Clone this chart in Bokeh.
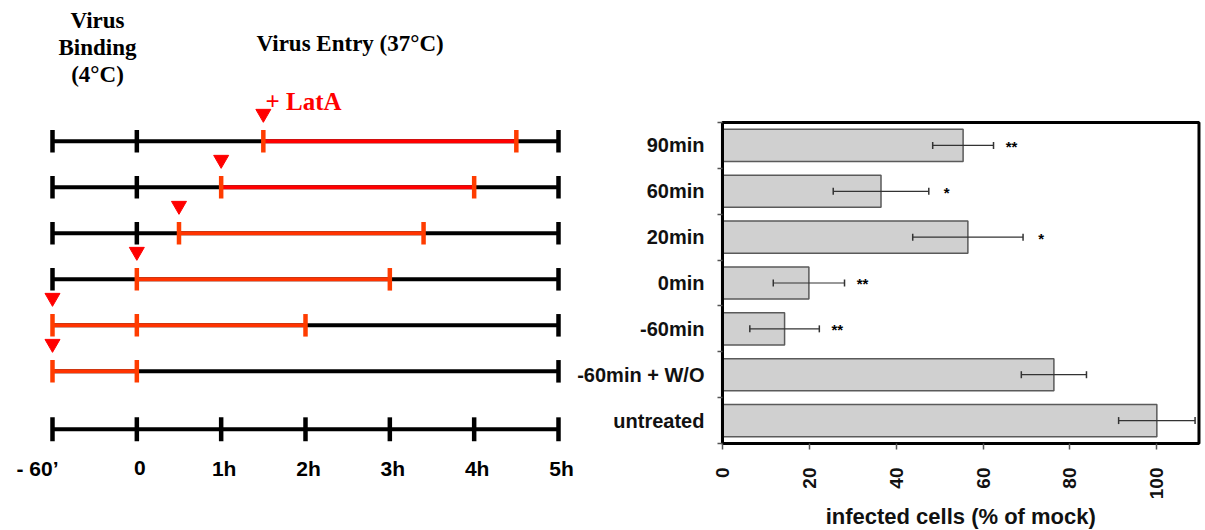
import numpy as np
from bokeh.plotting import figure
from bokeh.models import (Range1d, Label, FixedTicker, ColumnDataSource, Whisker, TeeHead,
                          LinearAxis)
from bokeh.embed import file_html
from bokeh.resources import INLINE
from bokeh.core.properties import value

# ---------------- timeline data (hours, as drawn) ----------------
treat_labels = ["90min", "60min", "20min", "0min", "-60min", "-60min + W/O"]
treat_start_h = [1.5, 1.0, 0.5, 0.0, -1.0, -1.0]
treat_end_h = [4.5, 4.0, 3.4, 3.0, 2.0, 0.0]
time_ticks_h = [-1, 0, 1, 2, 3, 4, 5]
time_tick_labels = ["- 60\u2019", "0", "1h", "2h", "3h", "4h", "5h"]

# ---------------- bar data ----------------
conditions = ["90min", "60min", "20min", "0min", "-60min", "-60min + W/O", "untreated"]
infected_pct = [55.4, 36.5, 56.5, 19.9, 14.3, 76.3, 100.0]
err_pct = [7.0, 11.0, 12.7, 8.2, 8.0, 7.5, 8.8]
significance = ["**", "*", "*", "**", "**", "", ""]
x_ticks = [0, 20, 40, 60, 80, 100]

SANS = "Liberation Sans"
SERIF = "Liberation Serif"

W, H = 1205, 530
p = figure(width=W, height=H,
           x_range=Range1d(-1.6166, 12.672), y_range=Range1d(8.46, -3.06),
           output_backend="svg", toolbar_location=None, min_border=0,
           x_axis_location=None, y_axis_location=None)
p.outline_line_color = None
p.grid.visible = False

# bar-chart coordinate system (percent / condition index)
X_MAX = 109.7
p.extra_x_ranges = {"pct": Range1d(-166.2, 111.2)}
p.extra_y_ranges = {"cond": Range1d(8.397, -3.160)}

# ================= left: timeline diagram =================
t_min, t_max = time_ticks_h[0], time_ticks_h[-1]
rows = list(range(len(treat_labels)))
line_red = ["#ff0000", "#ff0000", "#ff3300", "#ff3300", "#ff3300", "#ff3300"]
tick_red = "#ff3c00"
tick_h = 0.245

p.segment(x0=[t_min] * len(rows), y0=rows, x1=[t_max] * len(rows), y1=rows,
          line_color="black", line_width=4)
p.segment(x0=treat_start_h, y0=rows, x1=treat_end_h, y1=rows,
          line_color=line_red, line_width=4)

tx, ty0, ty1, tc = [], [], [], []
for r, s, e in zip(rows, treat_start_h, treat_end_h):
    for t in sorted(set([t_min, 0, s, e, t_max])):
        tx.append(t)
        ty0.append(r - tick_h)
        ty1.append(r + tick_h)
        tc.append(tick_red if s <= t <= e else "black")
p.segment(x0=tx, y0=ty0, x1=tx, y1=ty1, line_color=tc, line_width=4.5)

p.scatter(x=treat_start_h, y=[r - 0.6 for r in rows], marker="inverted_triangle",
          size=15, fill_color="#ff0000", line_color="#ff0000")

axis_row = 6.26
p.segment(x0=[t_min], y0=[axis_row], x1=[t_max], y1=[axis_row], line_color="black", line_width=4)
p.segment(x0=time_ticks_h, y0=[axis_row - 0.26] * len(time_ticks_h),
          x1=time_ticks_h, y1=[axis_row + 0.26] * len(time_ticks_h),
          line_color="black", line_width=4.5)
aligns = ["right"] + ["center"] * (len(time_ticks_h) - 1)
xoffs = [6] + [3] * (len(time_ticks_h) - 1)
p.text(x=time_ticks_h, y=[axis_row] * len(time_ticks_h), text=time_tick_labels,
       text_align=aligns, x_offset=xoffs, y_offset=39, text_baseline="middle",
       text_font=value(SANS), text_font_style="bold", text_font_size="21px", text_color="black")

def lab(txt, x, y, size, color="black", align="left"):
    p.add_layout(Label(x=x, y=y, x_units="screen", y_units="screen", text=txt,
                       text_font=SERIF, text_font_style="bold", text_font_size=size,
                       text_color=color, text_align=align, text_baseline="alphabetic"))

lab("Virus", 97, H - 20, "23px", align="center")
lab("Binding", 97, H - 47, "23px", align="center")
lab("(4\u00b0C)", 97, H - 74, "23px", align="center")
lab("Virus Entry (37\u00b0C)", 256, H - 43, "23px")
lab("+ LatA", 265, H - 101, "25px", color="#ff0000")

# ================= right: bar chart =================
idx = list(range(len(conditions)))
RN = dict(x_range_name="pct", y_range_name="cond")

p.hbar(y=idx, left=0, right=infected_pct, height=0.7,
       fill_color="#d0d0d0", line_color="#5a5a5a", line_width=1.5, **RN)

lo = [v - e for v, e in zip(infected_pct, err_pct)]
hi = [v + e for v, e in zip(infected_pct, err_pct)]
wsrc = ColumnDataSource(dict(y=idx, lo=lo, hi=hi))
wh = Whisker(source=wsrc, base="y", lower="lo", upper="hi", dimension="width",
             line_color="#333333", line_width=1.2, level="annotation",
             upper_head=TeeHead(size=7, line_color="#333333", line_width=1.5),
             lower_head=TeeHead(size=7, line_color="#333333", line_width=1.5), **RN)
p.add_layout(wh)

sig_x = [h for h, s in zip(hi, significance) if s]
sig_y = [i for i, s in zip(idx, significance) if s]
sig_t = [s for s in significance if s]
p.text(x=sig_x, y=sig_y, text=sig_t, x_offset=18, y_offset=1, text_align="center",
       text_baseline="middle", text_font=value(SANS), text_font_style="bold",
       text_font_size="15px", text_color="black", **RN)

# plot box
y_lo, y_hi = -0.5, len(conditions) - 0.5
p.quad(left=[0], right=[X_MAX], top=[y_lo], bottom=[y_hi], fill_color=None,
       line_color="black", line_width=3, **RN)

ya = LinearAxis(fixed_location=0, bounds=(y_lo, y_hi), **RN)
ya.ticker = FixedTicker(ticks=idx, minor_ticks=[i - 0.5 for i in range(len(idx) + 1)])
ya.major_label_overrides = {i: c for i, c in enumerate(conditions)}
ya.major_tick_out = 0
ya.major_tick_in = 0
ya.major_tick_line_color = None
ya.minor_tick_out = 5
ya.minor_tick_in = 0
ya.minor_tick_line_color = "#555555"
ya.minor_tick_line_width = 1.5
ya.axis_line_width = 3
ya.axis_line_color = "black"
ya.major_label_standoff = 13
ya.major_label_text_font = SANS
ya.major_label_text_font_style = "bold"
ya.major_label_text_font_size = "20px"
ya.major_label_text_color = "#111111"
p.add_layout(ya, "left")

xa = LinearAxis(fixed_location=y_hi, bounds=(0, X_MAX), **RN)
xa.ticker = FixedTicker(ticks=x_ticks)
xa.major_label_orientation = np.pi / 2
xa.major_tick_out = 6
xa.major_tick_in = 0
xa.major_tick_line_color = "#555555"
xa.major_tick_line_width = 1.5
xa.minor_tick_line_color = None
xa.axis_line_width = 3
xa.axis_line_color = "black"
xa.major_label_standoff = 18
xa.major_label_text_font = SANS
xa.major_label_text_font_style = "bold"
xa.major_label_text_font_size = "19px"
xa.major_label_text_color = "#111111"
p.add_layout(xa, "below")

p.text(x=[X_MAX / 2], y=[y_hi], text=["infected cells (% of mock)"], y_offset=73,
       text_align="center", text_baseline="alphabetic", text_font=value(SANS),
       text_font_style="bold", text_font_size="22px", text_color="#111111", **RN)

open("out.html", "w").write(file_html(p, INLINE))
